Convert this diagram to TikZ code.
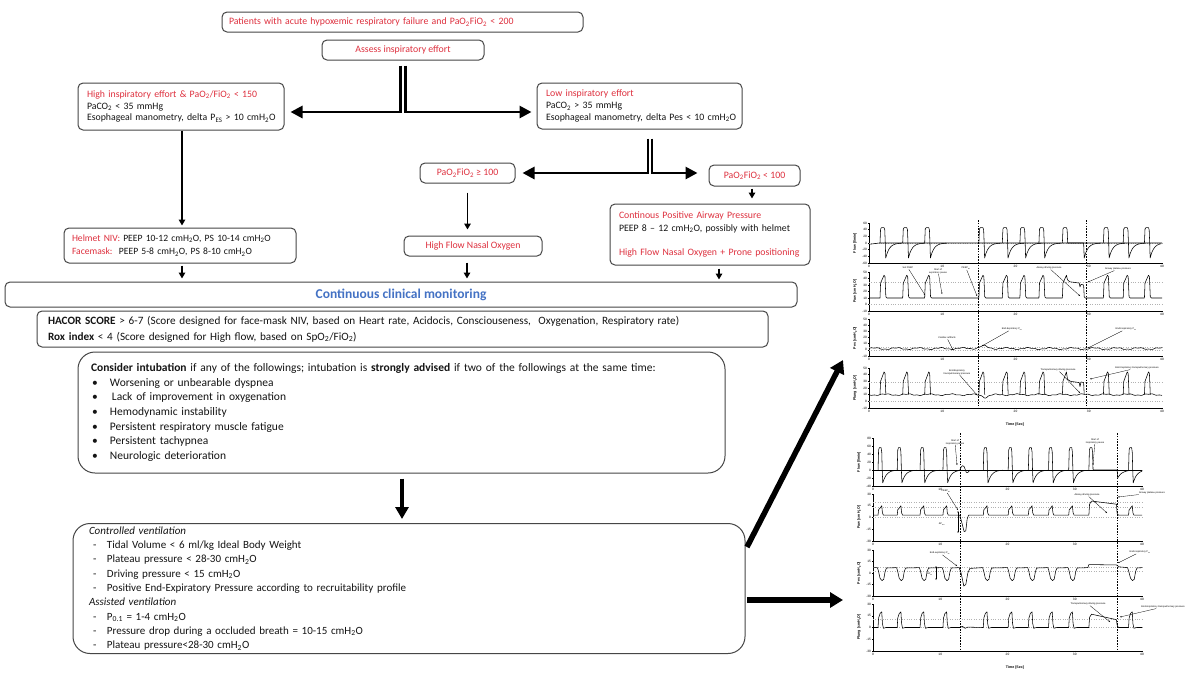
\documentclass[tikz,border=0pt]{standalone}
\usepackage{fontspec}
\setmainfont{Carlito}
\newfontfamily\chartfont{Liberation Sans}
\usetikzlibrary{arrows.meta}
\definecolor{redtxt}{RGB}{222,48,62}
\definecolor{bluetxt}{RGB}{68,114,196}
\definecolor{boxline}{RGB}{70,70,70}
\definecolor{txt}{RGB}{20,20,20}
\newcommand{\sbs}[1]{\textsubscript{#1}}
\newcommand{\bul}{\makebox[19pt][l]{\hspace{1pt}\textbullet}}
\newcommand{\dsh}{\makebox[18pt][l]{\hspace{4pt}-}}
\newcommand{\chartaxes}[3]{%
  \draw[axisline] (0,#2) -- (0,#1) -- (40,#1);
  \foreach \v in {#3} {
    \draw[axisline] (0,\v) -- ++(-1.2pt,0);
    \node[ticklab, anchor=east] (ty\v) at ([xshift=-1.2pt]0,\v) {\v};
  }
  \foreach \u in {0,10,...,40} {
    \draw[axisline] (\u,#1) -- ++(0,-1.2pt);
    \node[ticklab, anchor=north] (tx\u) at ([yshift=-1.2pt]\u,#1) {\u};
  }
}
\begin{document}
\begin{tikzpicture}[x=1pt,y=-1pt,
  box/.style={draw=boxline, line width=1pt, rounded corners=5pt, inner sep=0pt, text=txt, font=\fontsize{9.8}{11.8}\selectfont},
  bigbox/.style={box, rounded corners=17pt},
  thinarrow/.style={draw=black, line width=1.7pt, -{Triangle[length=6pt,width=6.5pt]}},
  stemarrow/.style={line width=2.8pt, -{Triangle[length=12pt,width=12pt]}},
  midarrow/.style={line width=4pt, -{Triangle[length=12pt,width=13pt]}},
  hugearrow/.style={line width=5.5pt, -{Triangle[length=13pt,width=15pt]}},
  wave/.style={line width=0.55pt, line join=round},
  axisline/.style={line width=0.4pt},
  ticklab/.style={font=\chartfont\fontsize{3.2}{3.5}\selectfont, inner sep=0.6pt},
  ylab/.style={font=\chartfont\bfseries\fontsize{3.6}{4}\selectfont, rotate=90, inner sep=0pt},
  refline/.style={gray!60, line width=0.4pt, dotted},
  vline/.style={line width=0.6pt, dash pattern=on 1.6pt off 1.2pt},
  ann/.style={font=\chartfont\fontsize{2.4}{2.8}\selectfont, inner sep=0.3pt, align=center},
  annarrow/.style={line width=0.3pt, -{Stealth[length=1.6pt,width=1.4pt]}},
]
\fill[white] (0,0) rectangle (1200,675);
\useasboundingbox (0,0) rectangle (1200,675);

% ---------------- flowchart boxes ----------------
\node[box, minimum width=361pt, minimum height=20pt, text width=347pt, align=left, text=redtxt] (top) at (402.5,22)
  {Patients with acute hypoxemic respiratory failure and PaO\sbs{2}FiO\sbs{2} < 200};
\node[box, minimum width=162pt, minimum height=20pt, align=center, text=redtxt] (assess) at (403,50)
  {Assess inspiratory effort};
\node[box, minimum width=206pt, minimum height=47pt, text width=188pt, align=left] (high) at (181,106.5)
  {{\color{redtxt}High inspiratory effort \& PaO\sbs{2}/FiO\sbs{2} < 150}\\
   PaCO\sbs{2} < 35 mmHg\\
   \mbox{Esophageal manometry, delta P\sbs{ES} > 10 cmH\sbs{2}O}};
\node[box, minimum width=205pt, minimum height=46pt, text width=187pt, align=left] (low) at (639.5,106)
  {{\color{redtxt}Low inspiratory effort}\\
   PaCO\sbs{2} > 35 mmHg\\
   \mbox{Esophageal manometry, delta Pes < 10 cmH\sbs{2}O}};
\node[box, minimum width=95pt, minimum height=20pt, align=center, text=redtxt] (ge100) at (467.5,173)
  {PaO\sbs{2}FiO\sbs{2} ≥ 100};
\node[box, minimum width=91pt, minimum height=21pt, align=center, text=redtxt] (lt100) at (754.5,175.5)
  {PaO\sbs{2}FiO\sbs{2} < 100};
\node[box, minimum width=200pt, minimum height=61pt, text width=182pt, align=left, font=\fontsize{9.8}{12.3}\selectfont] (cpap) at (710,234.5)
  {{\color{redtxt}Continous Positive Airway Pressure}\\
   \mbox{PEEP 8 – 12 cmH\sbs{2}O, possibly with helmet}\\[12pt]
   \mbox{\color{redtxt}High Flow Nasal Oxygen + Prone positioning}};
\node[box, minimum width=138pt, minimum height=20pt, align=center, text=redtxt] (hfno) at (473,246)
  {High Flow Nasal Oxygen};
\node[box, minimum width=232pt, minimum height=35pt, text width=216pt, align=left, font=\fontsize{9.6}{13.5}\selectfont] (helmet) at (180,245.5)
  {\mbox{{\color{redtxt}Helmet NIV:} PEEP 10-12 cmH\sbs{2}O, PS 10-14 cmH\sbs{2}O}\\
   \mbox{{\color{redtxt}Facemask:}\, PEEP 5-8 cmH\sbs{2}O, PS 8-10 cmH\sbs{2}O}};
\node[box, minimum width=792pt, minimum height=25pt, align=center, text=bluetxt, font=\fontsize{13.5}{15}\selectfont\bfseries] (monitor) at (401,294.5)
  {Continuous clinical monitoring};
\node[box, minimum width=731pt, minimum height=36pt, text width=709pt, align=left, font=\fontsize{11.2}{16}\selectfont] (hacor) at (402.5,329)
  {\textbf{HACOR SCORE} > 6-7 (Score designed for face-mask NIV, based on Heart rate, Acidocis, Consciouseness,\ \ Oxygenation, Respiratory rate)\\
   \textbf{Rox index} < 4 (Score designed for High flow, based on SpO\sbs{2}/FiO\sbs{2})};
\node[bigbox, minimum width=647pt, minimum height=121pt, text width=621pt, align=left, font=\fontsize{11.5}{14.7}\selectfont] (consider) at (401.5,412.5)
  {\textbf{Consider intubation} if any of the followings; intubation is \textbf{strongly advised} if two of the followings at the same time:\\
   \bul Worsening or unbearable dyspnea\\
   \bul\hspace{2pt}Lack of improvement in oxygenation\\
   \bul Hemodynamic instability\\
   \bul Persistent respiratory muscle fatigue\\
   \bul Persistent tachypnea\\
   \bul Neurologic deterioration};
\node[bigbox, minimum width=672pt, minimum height=130pt, text width=640pt, align=left, font=\fontsize{11}{14.3}\selectfont] (vent) at (409,588.5)
  {\textit{Controlled ventilation}\\
   \dsh Tidal Volume < 6 ml/kg Ideal Body Weight\\
   \dsh Plateau pressure < 28-30 cmH\sbs{2}O\\
   \dsh Driving pressure < 15 cmH\sbs{2}O\\
   \dsh Positive End-Expiratory Pressure according to recruitability profile\\
   \textit{Assisted ventilation}\\
   \dsh P\sbs{0.1} = 1-4 cmH\sbs{2}O\\
   \dsh Pressure drop during a occluded breath = 10-15 cmH\sbs{2}O\\
   \dsh Plateau pressure<28-30 cmH\sbs{2}O};

% ---------------- connectors ----------------
\draw[stemarrow, shorten >=6pt] ([xshift=-2.5pt,yshift=-5pt]assess.south) |- ([yshift=-5.5pt]high.east);
\draw[stemarrow, shorten >=5pt] ([xshift=2.5pt,yshift=-5pt]assess.south) |- ([yshift=-6pt]low.west);
\draw[stemarrow, shorten >=7pt] ([xshift=8.5pt,yshift=-9pt]low.south) |- (ge100.east);
\draw[stemarrow, shorten >=11pt] ([xshift=12.5pt,yshift=-9pt]low.south) |- ([yshift=2.5pt]lt100.west);

\draw[thinarrow, shorten >=2pt] ([xshift=1pt]high.south) -- ([xshift=1pt]high.south |- helmet.north);
\draw[thinarrow, shorten <=9pt, shorten >=6pt] (ge100.south) -- (ge100.south |- hfno.north);
\draw[thinarrow, shorten <=2pt, shorten >=5pt] ([xshift=-2.5pt]lt100.south) -- ([xshift=-2.5pt]lt100.south |- cpap.north);
\draw[thinarrow, shorten <=2pt, shorten >=3pt] ([xshift=2pt]helmet.south) -- ([xshift=2pt]helmet.south |- monitor.north);
\draw[thinarrow, shorten <=6pt, shorten >=3pt] ([xshift=-6pt]hfno.south) -- ([xshift=-6pt]hfno.south |- monitor.north);
\draw[thinarrow, shorten <=3pt, shorten >=2pt] ([xshift=9pt]cpap.south) -- ([xshift=9pt]cpap.south |- monitor.north);
\draw[midarrow, shorten <=5pt, shorten >=4pt] ([xshift=0.5pt]consider.south) -- ([xshift=0.5pt]consider.south |- vent.north);

\coordinate (d1) at (747,547);
\coordinate (d2) at (843,360);
\coordinate (h1) at (747,600);
\coordinate (h2) at (843,600);
\draw[hugearrow] (d1) -- (d2);
\draw[hugearrow] (h1) -- (h2);

% ---------------- top chart ----------------
\begin{scope}[shift={(869pt,-243pt)}, x=7.325pt, y=0.3333pt]
  \chartaxes{-60}{60}{-60,-40,...,60}
  \draw[refline] (0,0) -- (40,0);
  \draw[wave] (0,-4) -- (1.4,0) -- (40,0);
  \foreach \s/\q in {1.5/2.2,4.6/2.2,7.6/2.2,15.0/2.2,18.2/2.2,20.6/2.2,23.2/2.2,32.0/2.2,34.7/2.2,37.6/1.5}
    \draw[wave] (\s,0) -- (\s+0.08,42) -- (\s+0.2,46) -- (\s+0.55,46) -- (\s+0.65,40) -- (\s+0.72,0) -- (\s+0.78,-45)
      -- plot[domain=0:\q,samples=12] ({\s+0.78+\x},{-45*exp(-2*\x)});
  \draw[wave] (26.4,0) -- (26.48,42) -- (26.6,46) -- (26.95,46) -- (27.05,40) -- (27.12,0) -- (29.3,0) -- (29.38,-45)
      -- plot[domain=0:2.3,samples=12] ({29.38+\x},{-45*exp(-2*\x)});
\end{scope}
\begin{scope}[shift={(869pt,-304.5pt)}, x=7.325pt, y=0.65pt]
  \chartaxes{-10}{50}{-10,0,...,50}
  \draw[refline] (0,35) -- (40,35);
  \draw[refline] (0,0) -- (40,0);
  \draw[wave] (0,10) \foreach \s in {1.5,4.6,7.6,15.0,18.2,20.6,23.2} { -- (\s,10) -- (\s+0.08,33) -- (\s+0.55,45) -- (\s+0.68,43) -- (\s+0.8,12) -- (\s+0.95,10) }
     -- (26.4,10) -- (26.48,33) -- (26.95,45) -- (27.1,38) -- (27.4,35) -- (28.7,33) -- (28.8,27) -- (28.95,31) -- (29.3,30) -- (29.38,12) -- (29.5,10)
     \foreach \s in {32.0,34.7,37.6} { -- (\s,10) -- (\s+0.08,33) -- (\s+0.55,45) -- (\s+0.68,43) -- (\s+0.8,12) -- (\s+0.95,10) } -- (40,10);
\end{scope}
\begin{scope}[shift={(869pt,-349.8pt)}, x=7.325pt, y=0.617pt]
  \chartaxes{-10}{50}{-10,0,...,50}
  \draw[refline] (0,5) -- (40,5);
  \draw[refline] (0,-1) -- (40,-1);
  \draw[wave] plot[domain=0:40,samples=220] (\x,{2+1.3*sin(\x*120)+0.6*sin(\x*370)+4/(1+3*(\x-15.6)^2)});
\end{scope}
\begin{scope}[shift={(869pt,-401.3pt)}, x=7.325pt, y=0.667pt]
  \chartaxes{-10}{50}{-10,0,...,50}
  \draw[refline] (0,28) -- (40,28);
  \draw[refline] (0,0) -- (40,0);
  \draw[wave] plot[domain=0:40,samples=220] (\x,{10-1.0*sin(\x*120)-0.5*sin(\x*370)-4/(1+6*(\x-15.9)^2)});
  \foreach \s in {1.5,4.6,7.6,15.0,18.2,20.6,23.2,32.0,34.7,37.6}
    \draw[wave] (\s,10) -- (\s+0.08,30) -- (\s+0.55,44) -- (\s+0.68,42) -- (\s+0.8,10);
  \draw[wave] (26.4,10) -- (26.48,30) -- (26.95,44) -- (27.1,33) -- (27.5,30) -- (28.7,28) -- (28.8,22) -- (28.95,29) -- (29.3,28) -- (29.38,10);
\end{scope}
\draw[vline] (978,220) -- (978,408);
\draw[vline] (1086,220) -- (1086,408);
\node[ylab] (yl1) at (855,243) {Flow [l/min]};
\node[ylab] (yl2) at (855,291) {Paw [cmH\sbs{2}O]};
\node[ylab] (yl3) at (855,338) {Pes [cmH\sbs{2}O]};
\node[ylab] (yl4) at (855,388) {Plung [cmH\sbs{2}O]};
\node[ylab, rotate=-90] (tl1) at (1015,425) {Time [Sec]};

\node[ann] (a1) at (908,268) {Set PEEP};
\draw[annarrow] (a1) -- (925,295);
\node[ann] (a2) at (938,271) {Start of\\expiratory pause};
\draw[annarrow] (a2) -- (942,294);
\node[ann] (a3) at (966,268) {PEEP\sbs{tot}};
\draw[annarrow] (a3) -- (977,296);
\node[ann] (a4) at (1049,268) {Airway driving pressure};
\draw[annarrow] (a4) -- (1080,296);
\node[ann] (a5) at (1118,269) {Airway plateau pressure};
\draw[annarrow] (a5) -- (1088,282);
\node[ann] (a6) at (947,338) {Cardiac artifacts};
\draw[annarrow] (a6) -- (953,350);
\node[ann] (a7) at (1012,329) {End-Expiratory P\sbs{es}};
\draw[annarrow] (a7) -- (982,346);
\node[ann] (a8) at (1126,329) {End-Inspiratory P\sbs{es}};
\draw[annarrow] (a8) -- (1088,348);
\node[ann] (a9) at (957,372) {End-Expiratory\\transpulmonary pressure};
\draw[annarrow] (a9) -- (977,395);
\node[ann] (a10) at (1058,370) {Transpulmonary driving pressure};
\draw[annarrow] (a10) -- (1080,393);
\node[ann] (a11) at (1137,368) {End-Inspiratory transpulmonary pressure};
\draw[annarrow] (a11) -- (1090,379);

% ---------------- bottom chart ----------------
\begin{scope}[shift={(873pt,-470pt)}, x=6.725pt, y=0.4pt]
  \chartaxes{-40}{80}{-40,-20,...,80}
  \draw[refline] (0,0) -- (40,0);
  \draw[wave] (0,0) -- (40,0);
  \foreach \s/\q in {0.75/2.2,3.6/2.2,7.0/2.2,10.4/2.2,16.4/2.2,20.1/2.2,23.1/2.2,26.1/2.2,29.1/2.2,38.0/1.3}
    \draw[wave] (\s,0) -- (\s+0.08,50) -- (\s+0.2,56) -- (\s+0.45,56) -- (\s+0.55,45) -- (\s+0.62,0) -- (\s+0.7,-32)
      -- plot[domain=0:\q,samples=12] ({\s+0.7+\x},{-32*exp(-1.8*\x)});
  \draw[wave] (12.9,0) .. controls (13.2,14) and (13.5,14) .. (13.7,2) .. controls (13.9,-12) and (14.1,-7) .. (14.4,0);
  \draw[wave] (32.1,0) -- (32.18,50) -- (32.3,56) -- (32.55,56) -- (32.65,45) -- (32.72,0) -- (36.3,0) -- (36.38,-20)
      -- plot[domain=0:1.6,samples=10] ({36.38+\x},{-20*exp(-1.5*\x)});
\end{scope}
\begin{scope}[shift={(873pt,-517.5pt)}, x=6.725pt, y=0.783pt]
  \chartaxes{-30}{30}{-30,-15,...,30}
  \draw[refline] (0,20) -- (40,20);
  \draw[refline] (0,13) -- (40,13);
  \draw[refline] (0,0) -- (40,0);
  \draw[wave] (0,3) \foreach \s in {0.75,3.6,7.0,10.4} { -- (\s,3) -- (\s+0.08,10) -- (\s+0.3,12) -- (\s+0.55,15) -- (\s+0.65,6) -- (\s+0.8,3) }
     -- (12.9,3) -- (13.0,0) -- (13.25,-8) -- (13.55,-18) -- (13.8,-17) -- (14.0,-2) -- (14.2,3)
     \foreach \s in {16.4,20.1,23.1,26.1,29.1} { -- (\s,3) -- (\s+0.08,10) -- (\s+0.3,12) -- (\s+0.55,15) -- (\s+0.65,6) -- (\s+0.8,3) }
     -- (32.1,3) -- (32.2,17) -- (32.5,21) -- (36.2,17) -- (36.3,5) -- (36.5,3)
     -- (38.0,3) -- (38.08,10) -- (38.3,12) -- (38.55,15) -- (38.65,6) -- (38.8,3) -- (40,3);
\end{scope}
\begin{scope}[shift={(873pt,-573pt)}, x=6.725pt, y=0.767pt]
  \chartaxes{-30}{30}{-30,-15,...,30}
  \draw[refline] (0,8) -- (40,8);
  \draw[refline] (0,2) -- (40,2);
  \draw[wave] (0,7) \foreach \s in {0.75,3.6,7.0,10.4} { -- (\s-0.1,7) -- (\s+0.05,3) -- (\s+0.3,-7) -- (\s+0.6,-10) -- (\s+0.85,-8) -- (\s+1.05,2) -- (\s+1.25,6.5) }
     -- (12.8,7) -- (13.1,0) -- (13.5,-17) -- (13.8,-15) -- (14.1,0) -- (14.4,6)
     \foreach \s in {16.4,20.1,23.1,26.1,29.1} { -- (\s-0.1,7) -- (\s+0.05,3) -- (\s+0.3,-7) -- (\s+0.6,-10) -- (\s+0.85,-8) -- (\s+1.05,2) -- (\s+1.25,6.5) }
     -- (31.95,7) -- (32.1,11) -- (36.2,10.5) -- (36.6,8) -- (37.85,7) -- (38.0,3) -- (38.3,-7) -- (38.6,-10) -- (38.85,-8) -- (39.05,2) -- (39.25,6.5) -- (40,7);
\end{scope}
\begin{scope}[shift={(873pt,-627.5pt)}, x=6.725pt, y=0.783pt]
  \chartaxes{-30}{30}{-30,-15,...,30}
  \draw[refline] (0,10) -- (40,10);
  \draw[refline] (0,0) -- (40,0);
  \draw[wave] (0,0) \foreach \s in {0.75,3.6,7.0,10.4} { -- (\s,0) -- (\s+0.08,12) -- (\s+0.3,18) -- (\s+0.55,20) -- (\s+0.65,5) -- (\s+0.8,-1) -- (\s+1.2,0) }
     -- (12.9,0) -- (13.3,1.5) -- (13.7,-1) -- (14.1,0.5)
     \foreach \s in {16.4,20.1,23.1,26.1,29.1} { -- (\s,0) -- (\s+0.08,12) -- (\s+0.3,18) -- (\s+0.55,20) -- (\s+0.65,5) -- (\s+0.8,-1) -- (\s+1.2,0) }
     -- (32.1,0) -- (32.2,13) -- (32.5,17) -- (36.2,10) -- (36.3,3) -- (36.5,0)
     -- (38.0,0) -- (38.08,12) -- (38.3,18) -- (38.55,20) -- (38.65,5) -- (38.8,-1) -- (39.2,0) -- (40,0);
\end{scope}
\draw[vline] (960,433) -- (960,650);
\draw[vline] (1117,433) -- (1117,650);
\node[ylab] (yl5) at (859,462) {Flow [l/min]};
\node[ylab] (yl6) at (859,517) {Paw [cmH\sbs{2}O]};
\node[ylab] (yl7) at (859,573) {Pes [cmH\sbs{2}O]};
\node[ylab] (yl8) at (859,627) {Plung [cmH\sbs{2}O]};
\node[ylab, rotate=-90] (tl2) at (1015,668) {Time [Sec]};

\node[ann] (b1) at (955,442) {Start of\\inspiratory pause};
\draw[annarrow] (b1) -- (957,465);
\node[ann] (b2) at (1095,441) {Start of\\inspiratory pause};
\draw[annarrow] (b2) -- (1093,465);
\node[ann] (b3) at (946,491) {PEEP\sbs{tot}};
\draw[annarrow] (b3) -- (958,510);
\node[ann] (b4) at (942,524) {ΔP\sbs{occ}};
\draw[line width=0.3pt, {Stealth[length=1.6pt,width=1.4pt]}-{Stealth[length=1.6pt,width=1.4pt]}] (958,511) -- (958,533);
\node[ann] (b5) at (1087,495) {Airway driving pressure};
\draw[annarrow] (b5) -- (1107,513);
\node[ann] (b6) at (1152,493) {Airway plateau pressure};
\draw[annarrow] (b6) -- (1118,497);
\node[ann] (b7) at (940,553) {End-expiratory P\sbs{es}};
\draw[annarrow] (b7) -- (957,566);
\node[ann] (b8) at (930,574) {ΔP\sbs{es}};
\draw[line width=0.3pt, {Stealth[length=1.6pt,width=1.4pt]}-{Stealth[length=1.6pt,width=1.4pt]}] (936,566) -- (936,580);
\node[ann] (b9) at (1140,552) {End-inspiratory P\sbs{es}};
\draw[annarrow] (b9) -- (1118,563);
\node[ann] (b10) at (1088,604) {Transpulmonary driving pressure};
\draw[annarrow] (b10) -- (1110,622);
\node[ann] (b11) at (1163,607) {End-inspiratory transpulmonary pressure};
\draw[annarrow] (b11) -- (1120,617);
\end{tikzpicture}
\end{document}
